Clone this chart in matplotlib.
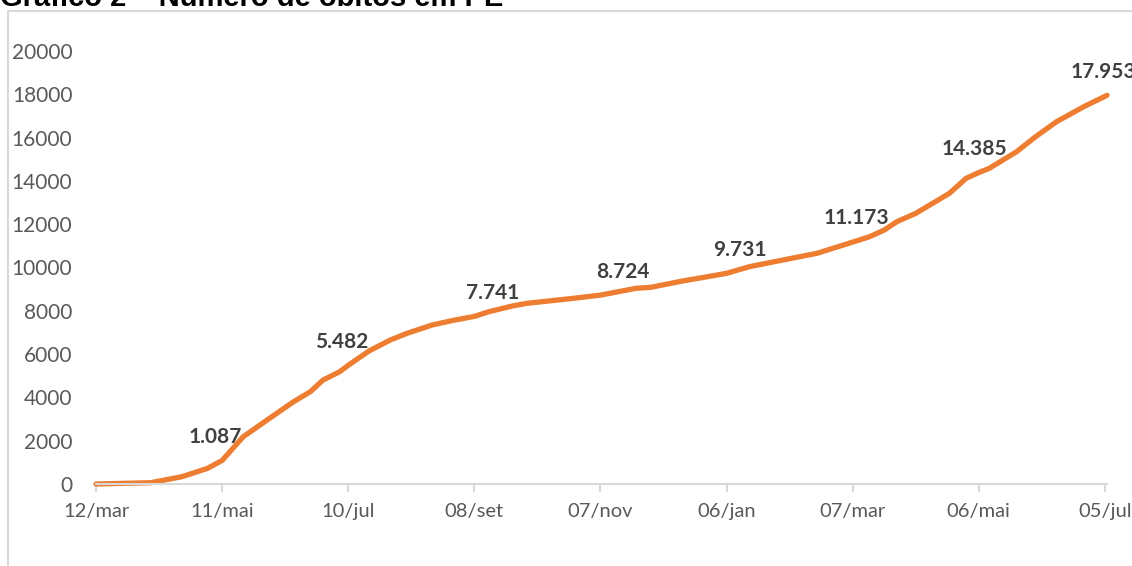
#!/usr/bin/env python3
"""Gráfico 2 - cumulative COVID deaths in Pernambuco (óbitos acumulados)."""

import matplotlib.pyplot as plt
from matplotlib.patches import Rectangle

# Days since 12/mar/2020 and cumulative deaths
DAYS = [0, 26, 41, 53, 60, 70, 78, 86, 94, 102, 108, 116, 120, 130,
        140, 148, 160, 170, 180, 187, 198, 205, 227, 240, 257, 264,
        279, 290, 300, 311, 327, 343, 360, 368, 375, 381, 390, 406,
        414, 420, 425, 438, 447, 457, 470, 481]
DEATHS = [0, 60, 340, 720, 1087, 2180, 2725, 3265, 3800, 4265, 4800,
          5190, 5482, 6150, 6650, 6960, 7345, 7560, 7741, 7960, 8220,
          8345, 8575, 8724, 9040, 9085, 9375, 9560, 9731, 10040, 10350,
          10655, 11173, 11420, 11730, 12115, 12500, 13425, 14120, 14385,
          14580, 15350, 16040, 16735, 17430, 17953]

# Labelled points (day index, value shown)
LABEL_DAYS = [60, 120, 180, 240, 300, 360, 420, 481]
LABEL_VALUES = [1087, 5482, 7741, 8724, 9731, 11173, 14385, 17953]
LABEL_DX = [-7, -6, 18, 22, 13, 4, -4, -4]   # pixel nudges, as in the original

TICK_DAYS = [0, 60, 120, 180, 240, 300, 360, 420, 480]
TICK_LABELS = ['12/mar', '11/mai', '10/jul', '08/set', '07/nov',
               '06/jan', '07/mar', '06/mai', '05/jul']

ORANGE = '#ED7D31'
GRID_GRAY = '#D9D9D9'
TEXT_GRAY = '#595959'

plt.rcParams['font.family'] = ['Lato', 'DejaVu Sans']

fig = plt.figure(figsize=(11.32, 5.66), dpi=100)
ax = fig.add_axes([96 / 1132, 1 - 484 / 566, (1107 - 96) / 1132, (484 - 51) / 566])

# chart frame (cut off on the right/bottom in the original)
fig.patches.append(Rectangle((8 / 1132, -0.1), 1.2, 1 - 11 / 566 + 0.1,
                             transform=fig.transFigure, fill=False,
                             edgecolor=GRID_GRAY, linewidth=1.5))

fig.text(0.0, 1 - 6 / 566, 'Gráfico 2 – Número de óbitos em PE',
         family='Liberation Sans', fontweight='bold', fontsize=21,
         ha='left', va='baseline', color='black')

ax.plot(DAYS, DEATHS, color=ORANGE, linewidth=3.8,
        solid_capstyle='round', solid_joinstyle='round', clip_on=False)

for day, val, dx in zip(LABEL_DAYS, LABEL_VALUES, LABEL_DX):
    label = f'{val:,}'.replace(',', '.')
    ax.annotate(label, (day, val), xytext=(dx * 0.72, 17), textcoords='offset points',
                ha='center', va='center', fontsize=15, fontweight='bold',
                color='#404040', annotation_clip=False)

ax.set_xlim(0, 481)
ax.set_ylim(0, 20000)
ax.set_yticks(range(0, 20001, 2000))
ax.set_xticks(TICK_DAYS)
ax.set_xticklabels(TICK_LABELS)

for side in ('top', 'right', 'left'):
    ax.spines[side].set_visible(False)
ax.spines['bottom'].set_color(GRID_GRAY)
ax.spines['bottom'].set_linewidth(1.5)

ax.tick_params(axis='x', colors=GRID_GRAY, length=6, width=1.5,
               labelcolor=TEXT_GRAY, labelsize=14.5, pad=8)
ax.tick_params(axis='y', length=0, labelcolor=TEXT_GRAY, labelsize=15, pad=17)

fig.savefig('out.png', dpi=100)
